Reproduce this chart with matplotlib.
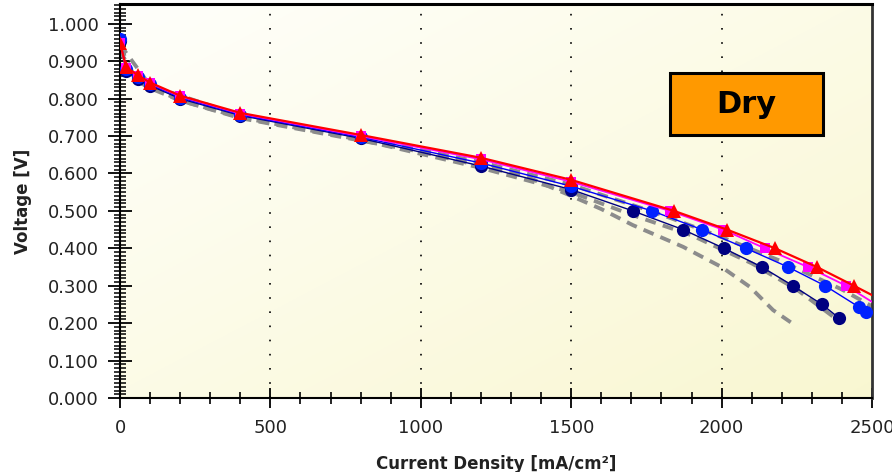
import numpy as np
import matplotlib
matplotlib.use("Agg")
import matplotlib.pyplot as plt
from matplotlib.patches import Rectangle
from matplotlib.ticker import MultipleLocator, FormatStrFormatter

# ---------------- data ----------------
red_x = [0, 20, 60, 100, 200, 400, 800, 1200, 1500, 1842, 2018, 2178, 2317, 2440, 2500]
red_y = [0.95, 0.885, 0.862, 0.843, 0.808, 0.762, 0.703, 0.642, 0.583, 0.50, 0.45, 0.40, 0.35, 0.30, 0.275]

mag_x = [0, 20, 60, 100, 200, 400, 800, 1200, 1500, 1828, 2005, 2144, 2287, 2414, 2500]
mag_y = [0.95, 0.883, 0.86, 0.841, 0.806, 0.760, 0.700, 0.638, 0.578, 0.50, 0.45, 0.40, 0.35, 0.30, 0.257]

blue_x = [0, 20, 60, 100, 200, 400, 800, 1200, 1500, 1769, 1935, 2081, 2221, 2344, 2457, 2480]
blue_y = [0.96, 0.88, 0.857, 0.838, 0.803, 0.757, 0.697, 0.628, 0.566, 0.50, 0.45, 0.40, 0.35, 0.30, 0.243, 0.23]

navy_x = [0, 20, 60, 100, 200, 400, 800, 1200, 1500, 1705, 1872, 2008, 2134, 2237, 2334, 2390]
navy_y = [0.955, 0.875, 0.852, 0.835, 0.80, 0.755, 0.694, 0.62, 0.557, 0.50, 0.45, 0.40, 0.35, 0.30, 0.25, 0.214]

gray1_x = [0, 50, 100, 200, 400, 800, 1000, 1200, 1350, 1500, 1600, 1705, 1872, 2000, 2094, 2171, 2234]
gray1_y = [0.93, 0.85, 0.828, 0.795, 0.748, 0.688, 0.658, 0.62, 0.592, 0.54, 0.505, 0.462, 0.404, 0.35, 0.297, 0.235, 0.20]

gray2_x = [0, 50, 100, 200, 400, 800, 1200, 1500, 1700, 1900, 2100, 2250, 2400]
gray2_y = [0.94, 0.855, 0.832, 0.795, 0.75, 0.69, 0.615, 0.55, 0.49, 0.435, 0.36, 0.29, 0.20]

gray3_x = [0, 100, 400, 800, 1200, 1500, 1800, 2000, 2200, 2400, 2500]
gray3_y = [0.945, 0.835, 0.755, 0.695, 0.63, 0.57, 0.49, 0.43, 0.365, 0.29, 0.245]

x_ticks = [0, 500, 1000, 1500, 2000, 2500]
grid_x = [500, 1000, 1500, 2000]
box_label = "Dry"
x_label = "Current Density [mA/cm²]"
y_label = "Voltage [V]"

# ---------------- figure ----------------
fig = plt.figure(figsize=(8.92, 4.72), dpi=100)
ax = fig.add_axes([120/892, 1-398/472, 752/892, 394/472])
ax.set_xlim(0, 2500)
ax.set_ylim(0, 1.053)

# gradient background
n = 200
gx, gy = np.meshgrid(np.linspace(0, 1, n), np.linspace(0, 1, n))
t = np.clip((gx + gy) / 2, 0, 1)
c0 = np.array([1.0, 1.0, 0.985])
c1 = np.array([0.976, 0.968, 0.82])
img = c0[None, None, :] * (1 - t[..., None]) + c1[None, None, :] * t[..., None]
ax.imshow(img, extent=[0, 1, 0, 1], transform=ax.transAxes, aspect='auto',
          zorder=0, origin='upper')

for gxv in grid_x:
    ax.axvline(gxv, color='black', lw=1.2, linestyle=(0, (1, 7.5)), zorder=1)

dash = (0, (2.8, 1.9))
for xs, ys in [(gray1_x, gray1_y), (gray2_x, gray2_y), (gray3_x, gray3_y)]:
    ax.plot(xs, ys, color='#8c8c8c', lw=2.8, linestyle=dash, zorder=2)

ax.plot(navy_x, navy_y, color='#000080', lw=1.0, marker='o', ms=9.5,
        markeredgewidth=0, zorder=3)
ax.plot(blue_x, blue_y, color='#0000ff', lw=1.0, marker='o', ms=9.5,
        markerfacecolor='#0022ff', markeredgewidth=0, zorder=4)
ax.plot(mag_x, mag_y, color='#ff00ff', lw=1.3, marker='s', ms=7,
        markeredgewidth=0, markevery=list(range(len(mag_x) - 1)), zorder=5)
ax.plot(red_x, red_y, color='#ff0000', lw=1.6, marker='^', ms=10.5,
        markeredgewidth=0, markevery=list(range(len(red_x) - 1)), zorder=6)

# ticks
ax.xaxis.set_major_locator(MultipleLocator(500))
ax.xaxis.set_minor_locator(MultipleLocator(100))
ax.yaxis.set_major_locator(MultipleLocator(0.1))
ax.yaxis.set_minor_locator(MultipleLocator(0.01))
ax.yaxis.set_major_formatter(FormatStrFormatter('%.3f'))
ax.set_xticks(x_ticks)
ax.tick_params(axis='x', which='major', direction='inout', length=14, width=1.3,
               labelsize=13, pad=8, colors='black', labelcolor='#222222')
ax.tick_params(axis='x', which='minor', direction='inout', length=8, width=1.2)
ax.tick_params(axis='y', which='major', direction='inout', length=17, width=1.3,
               labelsize=13, pad=7, labelcolor='#222222')
ax.tick_params(axis='y', which='minor', direction='inout', length=9, width=1.1)

for s in ['left', 'bottom']:
    ax.spines[s].set_linewidth(1.5)
ax.spines['top'].set_linewidth(2.2)
ax.spines['right'].set_linewidth(2.0)
ax.spines['right'].set_color('#333333')

ax.set_xlabel(x_label, fontsize=12, fontweight='bold', color='#222222', labelpad=13)
ax.set_ylabel(y_label, fontsize=12, fontweight='bold', color='#222222', labelpad=11)

# Dry box
bx0, bx1 = (670-120)/752, (823-120)/752
by0, by1 = (398-135)/394, (398-73)/394
ax.add_patch(Rectangle((bx0, by0), bx1-bx0, by1-by0, transform=ax.transAxes,
                       facecolor='#ff9900', edgecolor='black', lw=2.2, zorder=10))
ax.text((bx0+bx1)/2, (by0+by1)/2, box_label, transform=ax.transAxes,
        ha='center', va='center', fontsize=22, fontweight='bold', color='black', zorder=11)

fig.savefig("out.png", dpi=100)
